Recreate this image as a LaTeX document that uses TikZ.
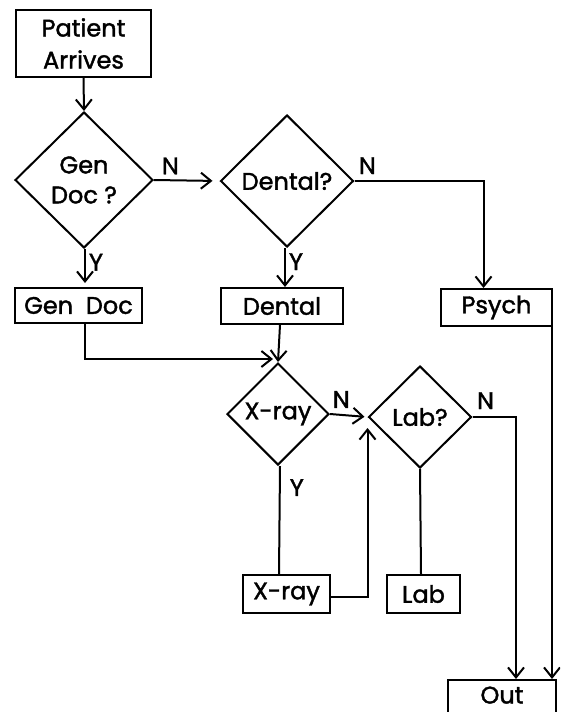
\documentclass[tikz,border=0pt]{standalone}
\usepackage{fontspec}
\setmainfont{Poppins}[FakeBold=1.6,AutoFakeBold=1.6]
\usetikzlibrary{shapes.geometric,arrows.meta,calc}

\begin{document}
\begin{tikzpicture}[x=1pt,y=-1pt,line width=2pt,
  box/.style={draw,rectangle,inner sep=0pt,align=center,font=\bfseries\fontsize{24}{32}\selectfont},
  ask/.style={draw,diamond,inner sep=0pt,align=center,font=\bfseries\fontsize{24}{30}\selectfont},
  lbl/.style={inner sep=0pt,font=\bfseries\fontsize{24}{24}\selectfont},
  go/.style={-{Straight Barb[length=10pt,width=16pt,line width=2pt]}}]
\useasboundingbox (0,0) rectangle (560,712);
\clip (0,0) rectangle (560,712);
\node[box,minimum width=135pt,minimum height=67pt] (patient) at (83.5,43.5) {Patient\\Arrives};
\node[ask,minimum width=138pt,minimum height=136pt] (gendocq) at (84,180) {Gen\\Doc ?};
\node[ask,minimum width=133pt,minimum height=132pt] (dentalq) at (287,181) {Dental?};
\node[box,minimum width=127pt,minimum height=35pt] (gendoc) at (78.5,305.5) {Gen\ \ Doc};
\node[box,minimum width=122pt,minimum height=36pt] (dental) at (282,306) {Dental};
\node[box,minimum width=111pt,minimum height=37pt] (psych) at (496.5,307.5) {Psych};
\node[ask,minimum width=102pt,minimum height=102pt] (xrayq) at (278,414) {X-ray};
\node[ask,minimum width=103pt,minimum height=102pt] (labq) at (420,417) {Lab?};
\node[box,minimum width=87pt,minimum height=38pt] (xray) at (286.5,594) {X-ray};
\node[box,minimum width=73pt,minimum height=38pt] (lab) at (423.5,594) {Lab};
\node[box,minimum width=108pt,minimum height=46pt,text height=17pt,text depth=16pt,anchor=north] (out) at (502,679) {Out};
\draw[go] (patient.south) -- (gendocq.north);
\draw[go,shorten >=7pt] (gendocq.east) -- (dentalq.west) node[lbl,pos=.25,above=5pt] (n1) {N};
\draw[go] (dentalq.east) -| ([xshift=-13pt]psych.north) node[lbl,pos=.05,above=6pt] (n2) {N};
\draw[go,shorten >=4pt] ([xshift=1pt]gendocq.south) -- ([xshift=6.5pt]gendoc.north) node[lbl,pos=.35,right=3pt] (y1) {Y};
\draw[go] ([xshift=-2pt]dentalq.south) -- ([xshift=3pt]dental.north) node[lbl,pos=.35,right=3pt] (y2) {Y};
\draw[go] ([xshift=6.5pt]gendoc.south) |- ([xshift=-5pt,yshift=3pt]xrayq.north);
\draw[go] ([xshift=-2pt]dental.south) -- (xrayq.north);
\draw[go,shorten >=3pt] (xrayq.east) -- (labq.west) node[lbl,pos=.3,above=6pt] (n3) {N};
\draw[go] (labq.east) -| ([xshift=14pt]out.north) node[lbl,pos=.15,above=7pt] (n4) {N};
\draw ([xshift=2pt]xrayq.south) -- ([xshift=-7.5pt]xray.north) node[lbl,pos=.2,right=9pt] (y3) {Y};
\draw (labq.south) -- ([xshift=-2.5pt]lab.north);
\draw[go] ([yshift=-3pt]xray.east) -| ([yshift=-11pt]labq.west);
\draw[go] ([xshift=-1pt]psych.south east) -- ([xshift=-5pt]out.north east);
\end{tikzpicture}
\end{document}
